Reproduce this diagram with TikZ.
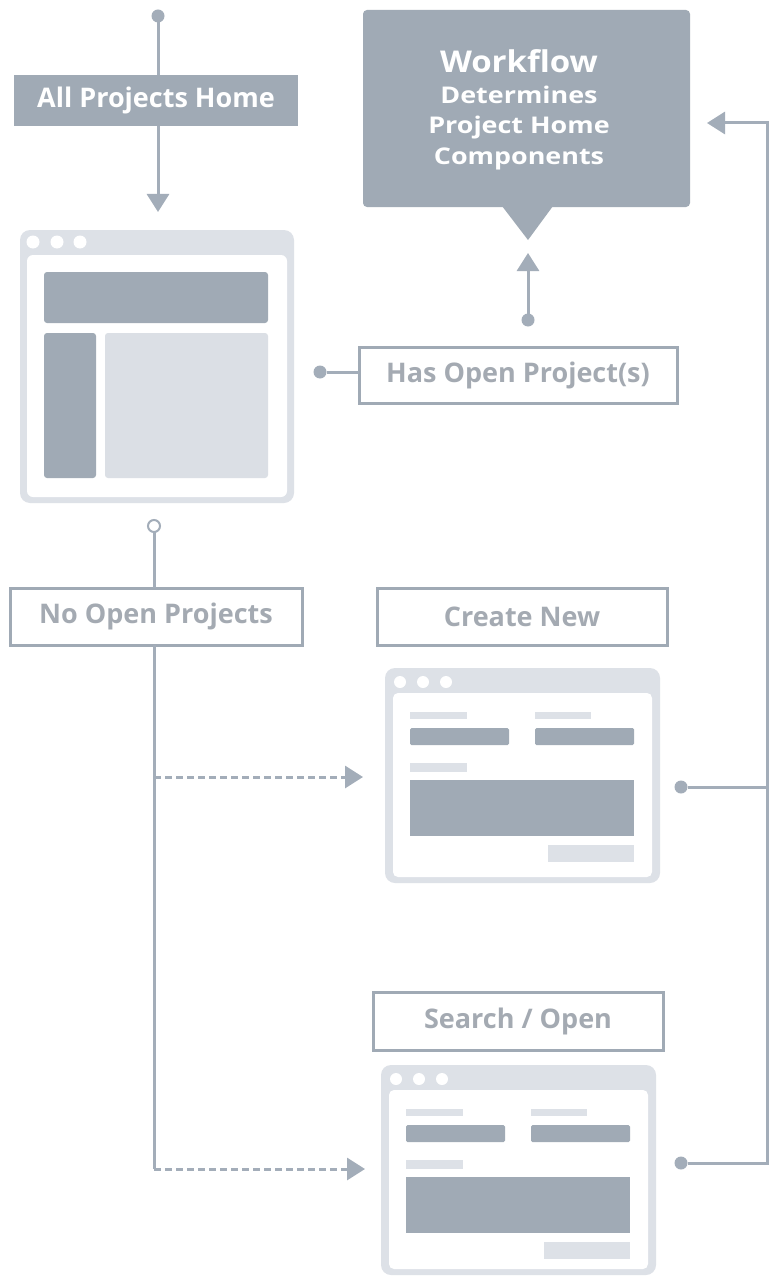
\documentclass[tikz,border=0pt]{standalone}
\usepackage{fontspec}
\setmainfont{Open Sans}
\usetikzlibrary{arrows.meta}
\definecolor{dk}{RGB}{160,170,181}
\definecolor{ln}{RGB}{163,173,185}
\definecolor{lt}{RGB}{221,225,231}
\definecolor{tx}{RGB}{164,170,178}
\newcommand\formwin[4]{%
  \node[winframe, minimum width=275pt, minimum height=#4pt, anchor=north west] (#1) at (#2,#3) {};
  \begin{scope}[shift={(#2,#3)}]
    \fill[white, rounded corners=5pt] (8,25) rectangle (267,#4-6);
    \foreach \dx in {15,38,61} \fill[white] (\dx,14) circle (6pt);
    \fill[lt] (25,44) rectangle (82,51);
    \fill[lt] (150,44) rectangle (206,51);
    \fill[dk, rounded corners=1.5pt] (25,60) rectangle (124,77);
    \fill[dk, rounded corners=1.5pt] (150,60) rectangle (249,77);
    \fill[lt] (25,95) rectangle (82,104);
    \fill[dk] (25,112) rectangle (249,168);
    \fill[lt] (163,177) rectangle (249,194);
  \end{scope}}
\newcommand\wline[1]{\scalebox{1.17}[1]{#1}}
\begin{document}
\begin{tikzpicture}[x=1pt,y=-1pt,
  lbl/.style={font=\bfseries\fontsize{27}{32}\selectfont},
  filledbox/.style={lbl, fill=dk, text=white, inner sep=0pt, outer sep=0pt},
  outbox/.style={lbl, draw=dk, line width=3pt, fill=white, text=tx, inner sep=0pt, outer sep=0pt},
  conn/.style={draw=ln, line width=3pt},
  dashconn/.style={draw=ln, line width=3pt, dash pattern=on 7pt off 4pt},
  arr/.style={-{Triangle[width=22pt,length=18pt]}},
  dotnode/.style={circle, fill=ln, inner sep=0pt, minimum size=13pt, outer sep=0pt},
  odot/.style={circle, draw=ln, line width=2pt, fill=white, inner sep=0pt, minimum size=12pt, outer sep=0pt},
  winframe/.style={fill=lt, rounded corners=10pt, inner sep=0pt, outer sep=0pt}
]
\useasboundingbox (0,0) rectangle (769,1276);
\fill[white] (0,0) rectangle (769,1276);

% start
\node[dotnode] (start) at (158,16) {};
\node[filledbox, minimum width=284pt, minimum height=51pt] (aph) at (156,100.5) {All Projects Home};
\coordinate (t1) at (158,212);
\draw[conn] (start) -- (start |- aph.north);
\draw[conn, arr] (start |- aph.south) -- (t1);

% window 1
\node[winframe, minimum width=274pt, minimum height=273pt, anchor=north west] (win1) at (20,230) {};
\fill[white, rounded corners=6pt] (27,255) rectangle (287,497);
\foreach \dx in {33,57,80} \fill[white] (\dx,242) circle (6.5pt);
\fill[dk, rounded corners=3pt] (44,272) rectangle (268,323);
\fill[dk, rounded corners=3pt] (44,333) rectangle (96,478);
\fill[lt!97!dk, rounded corners=3pt] (105,333) rectangle (268,478);

% workflow callout
\node[fill=dk, rounded corners=4pt, minimum width=327pt, minimum height=197pt, inner sep=0pt, outer sep=0pt] (wf) at (526.5,108.5) {};
\fill[dk] (502,206) -- (528,240) -- (553,206) -- cycle;
\coordinate (ptip) at (528,240);
\node[text=white, align=center, inner sep=0pt, font=\bfseries\fontsize{23}{30.5}\selectfont] (wft) at (519,110)
  {\scalebox{1.1}[1]{\fontsize{30}{34}\selectfont Workflow}\\
   \wline{Determines}\\ \wline{Project Home}\\ \wline{Components}};

% has open projects
\node[outbox, minimum width=318pt, minimum height=56pt] (hop) at (518,375) {Has Open Project(s)};
\node[dotnode] (hd) at (320,372) {};
\draw[conn] (hd) -- (hd -| hop.west);
\node[dotnode] (wd) at (528,320) {};
\draw[conn, arr, shorten >=13pt] (wd) -- (ptip);

% no open projects
\node[odot] (oc) at (154,526) {};
\node[outbox, minimum width=292pt, minimum height=57pt] (nop) at (156,616.5) {No Open Projects};
\draw[conn] (oc) -- (oc |- nop.north);
\coordinate (corner) at (154,1169);
\draw[conn] (oc |- nop.south) -- (corner);

% create new
\node[outbox, minimum width=290pt, minimum height=57pt] (cn) at (522,616.5) {Create New};
\formwin{win2}{385}{668}{215}
\coordinate (b2) at (154,777);
\draw[dashconn, arr] (b2) -- (363,777);

% search / open
\node[outbox, minimum width=290pt, minimum height=58pt] (so) at (518,1021) {Search / Open};
\formwin{win3}{381}{1065}{210}
\draw[dashconn, arr] (corner) -- (365,1169);

% right return line
\node[dotnode] (cd) at (681,787) {};
\node[dotnode] (sd) at (681,1163) {};
\coordinate (rb) at (767,1163);
\coordinate (rt) at (767,123);
\coordinate (rm) at (767,787);
\draw[conn] (cd) -- (rm);
\draw[conn, arr, shorten >=17pt] (sd) -- (rb) -- (rt) -- (wf.east |- rt);
\end{tikzpicture}
\end{document}
